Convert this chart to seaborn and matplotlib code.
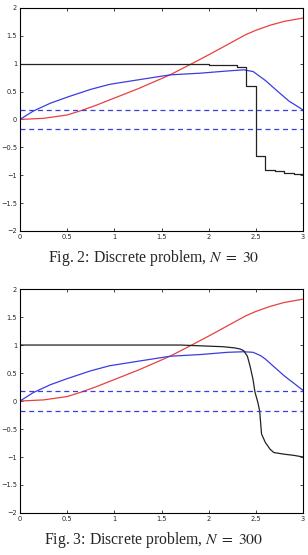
import numpy as np
import pandas as pd
import matplotlib
matplotlib.use("Agg")
import matplotlib.pyplot as plt
import seaborn as sns

# data
red_x = [0, 0.25, 0.5, 0.65, 0.8, 0.95, 1.1, 1.25, 1.4, 1.59, 1.82, 2.0, 2.25, 2.39, 2.5, 2.65, 2.8, 2.9, 3.0]
red_y = [0, 0.02, 0.08, 0.16, 0.25, 0.35, 0.45, 0.55, 0.66, 0.8, 1.0, 1.16, 1.39, 1.52, 1.6, 1.69, 1.76, 1.79, 1.82]

blue30_x = [0, 0.14, 0.32, 0.5, 0.75, 0.95, 1.25, 1.59, 1.91, 2.2, 2.37, 2.47, 2.6, 2.72, 2.85, 3.0]
blue30_y = [0, 0.15, 0.29, 0.4, 0.54, 0.63, 0.71, 0.8, 0.83, 0.87, 0.89, 0.86, 0.7, 0.52, 0.33, 0.17]

blue300_x = [0, 0.14, 0.32, 0.5, 0.75, 0.95, 1.25, 1.59, 1.91, 2.2, 2.37, 2.47, 2.55, 2.6, 2.7, 2.8, 2.9, 3.0]
blue300_y = [0, 0.15, 0.29, 0.4, 0.54, 0.63, 0.71, 0.8, 0.83, 0.87, 0.88, 0.87, 0.81, 0.75, 0.6, 0.45, 0.32, 0.19]

step_x = [0.0, 0.1, 0.2, 0.3, 0.4, 0.5, 0.6, 0.7, 0.8, 0.9, 1.0, 1.1, 1.2, 1.3, 1.4, 1.5,
          1.6, 1.7, 1.8, 1.9, 2.0, 2.1, 2.2, 2.3, 2.4, 2.5, 2.6, 2.7, 2.8, 2.9, 3.0]
step_y = [1.0, 1.0, 1.0, 1.0, 1.0, 1.0, 1.0, 1.0, 1.0, 1.0, 1.0, 1.0, 1.0, 1.0, 1.0, 1.0,
          1.0, 0.99, 0.99, 0.99, 0.98, 0.98, 0.97, 0.94, 0.6, -0.65, -0.91, -0.93, -0.96, -0.98, -0.99]

black300_x = [0, 1.7, 2.0, 2.15, 2.27, 2.33, 2.37, 2.41, 2.44, 2.47, 2.49, 2.52, 2.54, 2.56, 2.6, 2.65, 2.69, 2.8, 2.9, 3.0]
black300_y = [1.0, 1.0, 0.98, 0.97, 0.95, 0.93, 0.9, 0.8, 0.61, 0.38, 0.16, -0.02, -0.18, -0.59, -0.74, -0.86, -0.92, -0.95, -0.97, -1.0]

band = 0.17
captions = ["Fig. 2: Discrete problem, $N\\;=\\;30$", "Fig. 3: Discrete problem, $N\\;=\\;300$"]

sns.set_style("ticks")
plt.rcParams['mathtext.fontset'] = 'stix'

fig = plt.figure(figsize=(3.08, 5.55), dpi=100)
ax1 = fig.add_axes([0.065, 0.584, 0.919, 0.4016])
ax2 = fig.add_axes([0.065, 0.0757, 0.919, 0.4035])

red_c = "#e8403f"
blue_c = "#3c3ce0"
black_c = "#222222"

def draw(ax, bx, by, kx, ky, steps):
  sns.lineplot(x=red_x, y=red_y, color=red_c, lw=0.9, ax=ax, sort=False)
  sns.lineplot(x=bx, y=by, color=blue_c, lw=0.9, ax=ax, sort=False)
  if steps:
    sns.lineplot(x=kx, y=ky, color=black_c, lw=0.9, ax=ax, sort=False, drawstyle='steps-post')
  else:
    sns.lineplot(x=kx, y=ky, color=black_c, lw=0.9, ax=ax, sort=False)
  for v in [band, -band]:
    ax.axhline(v, color=blue_c, lw=0.9, ls=(0, (4, 3)))
  ax.set_xlim(0, 3)
  ax.set_ylim(-2, 2)
  ax.set_xticks([0, 0.5, 1, 1.5, 2, 2.5, 3])
  ax.set_xticklabels(["0", "0.5", "1", "1.5", "2", "2.5", "3"])
  ax.set_yticks([-2, -1.5, -1, -0.5, 0, 0.5, 1, 1.5, 2])
  ax.set_yticklabels(["\u22122", "\u22121.5", "\u22121", "\u22120.5", "0", "0.5", "1", "1.5", "2"])
  ax.tick_params(direction='in', length=2.5, width=0.6, labelsize=4.8, top=True, right=True, pad=2)
  for s in ax.spines.values():
    s.set_visible(True)
    s.set_linewidth(0.8)
    s.set_color("black")

draw(ax1, blue30_x, blue30_y, step_x, step_y, True)
draw(ax2, blue300_x, blue300_y, black300_x, black300_y, False)

fig.text(0.5, 1 - 261.5 / 555, captions[0], ha='center', va='baseline', fontsize=11.3, family='Liberation Serif')
fig.text(0.5, 1 - 544 / 555, captions[1], ha='center', va='baseline', fontsize=11.3, family='Liberation Serif')

fig.savefig("out.png", dpi=100)
